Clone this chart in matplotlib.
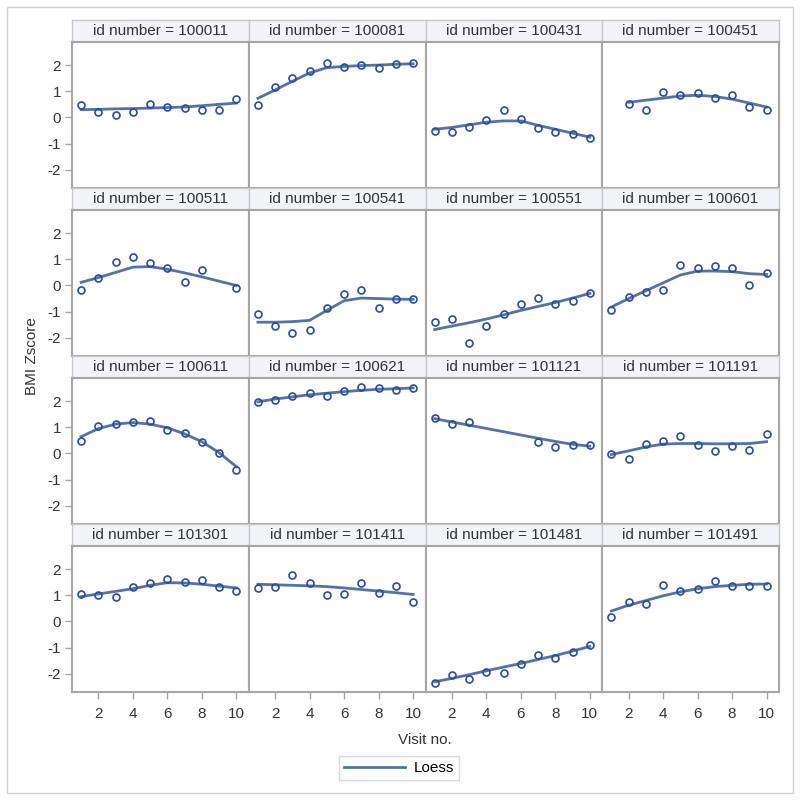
import numpy as np
import matplotlib
matplotlib.use("Agg")
import matplotlib.pyplot as plt
from matplotlib.lines import Line2D
from matplotlib.patches import Rectangle

plt.rcParams["font.family"] = ["Liberation Sans", "DejaVu Sans"]
plt.rcParams["axes.unicode_minus"] = False

# ====== 数据 ======
ids = ["100011", "100081", "100431", "100451",
       "100511", "100541", "100551", "100601",
       "100611", "100621", "101121", "101191",
       "101301", "101411", "101481", "101491"]

visits = {
    "100011": [1, 2, 3, 4, 5, 6, 7, 8, 9, 10],
    "100081": [1, 2, 3, 4, 5, 6, 7, 8, 9, 10],
    "100431": [1, 2, 3, 4, 5, 6, 7, 8, 9, 10],
    "100451": [2, 3, 4, 5, 6, 7, 8, 9, 10],
    "100511": [1, 2, 3, 4, 5, 6, 7, 8, 10],
    "100541": [1, 2, 3, 4, 5, 6, 7, 8, 9, 10],
    "100551": [1, 2, 3, 4, 5, 6, 7, 8, 9, 10],
    "100601": [1, 2, 3, 4, 5, 6, 7, 8, 9, 10],
    "100611": [1, 2, 3, 4, 5, 6, 7, 8, 9, 10],
    "100621": [1, 2, 3, 4, 5, 6, 7, 8, 9, 10],
    "101121": [1, 2, 3, 7, 8, 9, 10],
    "101191": [1, 2, 3, 4, 5, 6, 7, 8, 9, 10],
    "101301": [1, 2, 3, 4, 5, 6, 7, 8, 9, 10],
    "101411": [1, 2, 3, 4, 5, 6, 7, 8, 9, 10],
    "101481": [1, 2, 3, 4, 5, 6, 7, 8, 9, 10],
    "101491": [1, 2, 3, 4, 5, 6, 7, 8, 9, 10],
}

bmi_z = {
    "100011": [0.46, 0.22, 0.08, 0.22, 0.50, 0.41, 0.36, 0.28, 0.28, 0.69],
    "100081": [0.46, 1.18, 1.49, 1.76, 2.08, 1.94, 1.99, 1.87, 2.03, 2.06],
    "100431": [-0.53, -0.54, -0.35, -0.10, 0.27, -0.05, -0.40, -0.54, -0.63, -0.77],
    "100451": [0.50, 0.28, 0.99, 0.85, 0.92, 0.74, 0.85, 0.40, 0.27],
    "100511": [-0.19, 0.28, 0.91, 1.10, 0.85, 0.66, 0.14, 0.61, -0.10],
    "100541": [-1.10, -1.53, -1.82, -1.68, -0.85, -0.34, -0.19, -0.85, -0.52, -0.52],
    "100551": [-1.38, -1.28, -2.20, -1.53, -1.10, -0.72, -0.48, -0.72, -0.61, -0.30],
    "100601": [-0.94, -0.43, -0.23, -0.18, 0.80, 0.67, 0.75, 0.67, 0.00, 0.48],
    "100611": [0.47, 1.04, 1.14, 1.19, 1.25, 0.91, 0.77, 0.43, 0.03, -0.64],
    "100621": [1.95, 2.05, 2.19, 2.31, 2.19, 2.39, 2.52, 2.48, 2.43, 2.48],
    "101121": [1.35, 1.13, 1.19, 0.45, 0.26, 0.31, 0.31],
    "101191": [-0.01, -0.20, 0.36, 0.47, 0.66, 0.32, 0.09, 0.27, 0.13, 0.75],
    "101301": [1.05, 1.01, 0.92, 1.30, 1.45, 1.64, 1.49, 1.60, 1.30, 1.16],
    "101411": [1.26, 1.31, 1.79, 1.48, 1.01, 1.03, 1.45, 1.10, 1.35, 0.73],
    "101481": [-2.34, -2.05, -2.19, -1.91, -1.96, -1.62, -1.29, -1.38, -1.18, -0.88],
    "101491": [0.16, 0.73, 0.68, 1.40, 1.16, 1.25, 1.55, 1.35, 1.35, 1.35],
}

loess = {
    "100011": [0.30, 0.31, 0.33, 0.34, 0.36, 0.38, 0.40, 0.45, 0.50, 0.55],
    "100081": [0.73, 1.05, 1.38, 1.70, 1.90, 1.95, 1.98, 2.00, 2.03, 2.05],
    "100431": [-0.45, -0.38, -0.28, -0.18, -0.13, -0.13, -0.30, -0.45, -0.60, -0.75],
    "100451": [0.58, 0.66, 0.74, 0.82, 0.85, 0.80, 0.70, 0.55, 0.40],
    "100511": [0.12, 0.30, 0.50, 0.70, 0.72, 0.62, 0.48, 0.33, 0.00],
    "100541": [-1.40, -1.40, -1.38, -1.33, -0.95, -0.58, -0.48, -0.50, -0.52, -0.53],
    "100551": [-1.68, -1.55, -1.42, -1.28, -1.12, -0.95, -0.80, -0.65, -0.48, -0.30],
    "100601": [-0.82, -0.50, -0.20, 0.10, 0.40, 0.55, 0.55, 0.53, 0.45, 0.42],
    "100611": [0.64, 0.95, 1.12, 1.18, 1.12, 0.98, 0.75, 0.45, 0.03, -0.50],
    "100621": [1.97, 2.08, 2.16, 2.24, 2.30, 2.36, 2.41, 2.45, 2.47, 2.50],
    "101121": [1.33, 1.20, 1.08, 0.58, 0.46, 0.35, 0.28],
    "101191": [-0.04, 0.10, 0.25, 0.36, 0.38, 0.38, 0.37, 0.37, 0.38, 0.45],
    "101301": [0.95, 1.05, 1.15, 1.25, 1.38, 1.48, 1.47, 1.42, 1.35, 1.28],
    "101411": [1.42, 1.40, 1.38, 1.36, 1.33, 1.28, 1.22, 1.16, 1.10, 1.03],
    "101481": [-2.30, -2.17, -2.03, -1.88, -1.74, -1.60, -1.45, -1.30, -1.13, -0.95],
    "101491": [0.40, 0.62, 0.80, 0.98, 1.13, 1.25, 1.33, 1.38, 1.42, 1.43],
}

# ====== 样式 ======
LINE_C = "#5472A4"
MARK_C = "#2B4BA2"
FRAME_C = "#A6A6A6"
STRIP_C = "#F2F4FA"
TXT_C = "#333333"

W, H = 800, 800
x0, col_w = 72, 176.75
top0, strip_h, plot_h, row_h = 20, 22, 146, 168

fig = plt.figure(figsize=(8, 8), dpi=100)
fig.patches.append(Rectangle((7 / W, 7 / H), 786 / W, 786 / H, transform=fig.transFigure,
                             fill=False, edgecolor="#D0D0D0", linewidth=1))

for k, pid in enumerate(ids):
    r, c = divmod(k, 4)
    left = (x0 + c * col_w) / W
    strip_top = top0 + r * row_h
    plot_top = strip_top + strip_h

    # 标题条
    sax = fig.add_axes([left, 1 - plot_top / H, col_w / W, strip_h / H])
    sax.set_facecolor(STRIP_C)
    sax.set_xticks([])
    sax.set_yticks([])
    for s in sax.spines.values():
        s.set_color("#C8C8C8")
        s.set_linewidth(1)
    sax.text(0.5, 0.5, f"id number = {pid}", ha="center", va="center",
             fontsize=11, color=TXT_C, transform=sax.transAxes)

    ax = fig.add_axes([left, 1 - (plot_top + plot_h) / H, col_w / W, plot_h / H])
    ax.plot(visits[pid], loess[pid], color=LINE_C, linewidth=2, zorder=2)
    ax.plot(visits[pid], bmi_z[pid], linestyle="none", marker="o", markersize=5,
            markerfacecolor="none", markeredgecolor=MARK_C, markeredgewidth=1.2, zorder=3)
    ax.set_xlim(0.47, 10.72)
    ax.set_ylim(-2.69, 2.88)
    ax.set_xticks([2, 4, 6, 8, 10])
    ax.set_yticks([-2, -1, 0, 1, 2])
    for s in ax.spines.values():
        s.set_color(FRAME_C)
        s.set_linewidth(1.5)
    ax.tick_params(axis="both", color=FRAME_C, length=5, width=1,
                   labelsize=11, labelcolor=TXT_C, pad=3)
    if c != 0:
        ax.tick_params(axis="y", left=False, labelleft=False)
    if r != 3:
        ax.tick_params(axis="x", bottom=False, labelbottom=False)
    else:
        ax.tick_params(axis="x", pad=6)

fig.text(32 / W, 1 - 356 / H, "BMI Zscore", rotation=90, ha="center", va="center",
         fontsize=11, color=TXT_C)
fig.text(425 / W, 1 - 740 / H, "Visit no.", ha="center", va="center",
         fontsize=11, color=TXT_C)

handle = Line2D([], [], color=LINE_C, linewidth=2)
fig.legend([handle], ["Loess"], loc="center", bbox_to_anchor=(399 / W, 1 - 768 / H),
           frameon=True, fancybox=False, edgecolor="#D0D0D0", fontsize=11,
           handlelength=4.0, borderpad=0.3, handletextpad=0.6)

plt.savefig("out.png", dpi=100)
plt.close()
